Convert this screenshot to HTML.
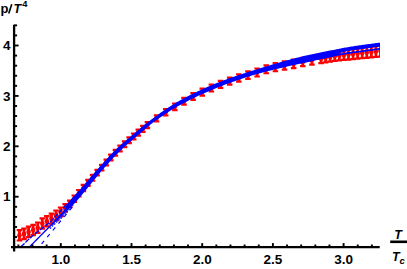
<!DOCTYPE html>
<html><head><meta charset="utf-8"><title>p/T^4</title>
<style>html,body{margin:0;padding:0;background:#fff;overflow:hidden}svg{display:block}</style></head>
<body>
<svg width="407" height="269" viewBox="0 0 407 269">
<rect width="407" height="269" fill="#fff"/>
<defs><clipPath id="c"><rect x="0" y="0" width="380" height="247.1"/></clipPath></defs>
<g clip-path="url(#c)">
<g stroke="#f00" fill="#f00">
<path d="M19.45,230.10V240.50" stroke-width="2.8" fill="none"/>
<path d="M16.70,230.10h5.5M16.70,240.50h5.5" stroke-width="2.2" fill="none"/>
<circle cx="19.45" cy="235.30" r="2.3" stroke="none"/>
<path d="M24.02,228.70V239.10" stroke-width="2.8" fill="none"/>
<path d="M21.27,228.70h5.5M21.27,239.10h5.5" stroke-width="2.2" fill="none"/>
<circle cx="24.02" cy="233.90" r="2.3" stroke="none"/>
<path d="M28.59,226.70V237.10" stroke-width="2.8" fill="none"/>
<path d="M25.84,226.70h5.5M25.84,237.10h5.5" stroke-width="2.2" fill="none"/>
<circle cx="28.59" cy="231.90" r="2.3" stroke="none"/>
<path d="M33.16,224.80V235.20" stroke-width="2.8" fill="none"/>
<path d="M30.41,224.80h5.5M30.41,235.20h5.5" stroke-width="2.2" fill="none"/>
<circle cx="33.16" cy="230.00" r="2.3" stroke="none"/>
<path d="M37.73,222.50V232.90" stroke-width="2.8" fill="none"/>
<path d="M34.98,222.50h5.5M34.98,232.90h5.5" stroke-width="2.2" fill="none"/>
<circle cx="37.73" cy="227.70" r="2.3" stroke="none"/>
<path d="M42.30,218.30V228.70" stroke-width="2.8" fill="none"/>
<path d="M39.55,218.30h5.5M39.55,228.70h5.5" stroke-width="2.2" fill="none"/>
<circle cx="42.30" cy="223.50" r="2.3" stroke="none"/>
<path d="M46.87,216.20V226.40" stroke-width="2.8" fill="none"/>
<path d="M44.12,216.20h5.5M44.12,226.40h5.5" stroke-width="2.2" fill="none"/>
<circle cx="46.87" cy="221.30" r="2.3" stroke="none"/>
<path d="M51.44,213.60V223.60" stroke-width="2.8" fill="none"/>
<path d="M48.69,213.60h5.5M48.69,223.60h5.5" stroke-width="2.2" fill="none"/>
<circle cx="51.44" cy="218.60" r="2.3" stroke="none"/>
<path d="M56.01,210.49V220.29" stroke-width="2.8" fill="none"/>
<path d="M53.26,210.49h5.5M53.26,220.29h5.5" stroke-width="2.2" fill="none"/>
<circle cx="56.01" cy="215.39" r="2.3" stroke="none"/>
<path d="M60.58,207.50V216.30" stroke-width="2.8" fill="none"/>
<path d="M57.83,207.50h5.5M57.83,216.30h5.5" stroke-width="2.2" fill="none"/>
<circle cx="60.58" cy="211.90" r="2.3" stroke="none"/>
<path d="M65.15,204.22V211.59" stroke-width="2.8" fill="none"/>
<path d="M62.40,204.22h5.5M62.40,211.59h5.5" stroke-width="2.2" fill="none"/>
<circle cx="65.15" cy="207.90" r="2.3" stroke="none"/>
<path d="M69.72,200.65V207.11" stroke-width="2.8" fill="none"/>
<path d="M66.97,200.65h5.5M66.97,207.11h5.5" stroke-width="2.2" fill="none"/>
<circle cx="69.72" cy="203.88" r="2.3" stroke="none"/>
<path d="M74.29,195.52V201.92" stroke-width="2.8" fill="none"/>
<path d="M71.54,195.52h5.5M71.54,201.92h5.5" stroke-width="2.2" fill="none"/>
<circle cx="74.29" cy="198.72" r="2.3" stroke="none"/>
<path d="M78.86,190.00V196.40" stroke-width="2.8" fill="none"/>
<path d="M76.11,190.00h5.5M76.11,196.40h5.5" stroke-width="2.2" fill="none"/>
<circle cx="78.86" cy="193.20" r="2.3" stroke="none"/>
<path d="M83.43,184.91V191.11" stroke-width="2.8" fill="none"/>
<path d="M80.68,184.91h5.5M80.68,191.11h5.5" stroke-width="2.2" fill="none"/>
<circle cx="83.43" cy="188.01" r="2.3" stroke="none"/>
<path d="M88.00,179.90V185.90" stroke-width="2.8" fill="none"/>
<path d="M85.25,179.90h5.5M85.25,185.90h5.5" stroke-width="2.2" fill="none"/>
<circle cx="88.00" cy="182.90" r="2.3" stroke="none"/>
<path d="M92.57,174.89V180.68" stroke-width="2.8" fill="none"/>
<path d="M89.82,174.89h5.5M89.82,180.68h5.5" stroke-width="2.2" fill="none"/>
<circle cx="92.57" cy="177.78" r="2.3" stroke="none"/>
<path d="M97.14,169.80V175.40" stroke-width="2.8" fill="none"/>
<path d="M94.39,169.80h5.5M94.39,175.40h5.5" stroke-width="2.2" fill="none"/>
<circle cx="97.14" cy="172.60" r="2.3" stroke="none"/>
<path d="M101.71,164.81V170.45" stroke-width="2.8" fill="none"/>
<path d="M98.96,164.81h5.5M98.96,170.45h5.5" stroke-width="2.2" fill="none"/>
<circle cx="101.71" cy="167.63" r="2.3" stroke="none"/>
<path d="M106.28,159.69V165.36" stroke-width="2.8" fill="none"/>
<path d="M103.53,159.69h5.5M103.53,165.36h5.5" stroke-width="2.2" fill="none"/>
<circle cx="106.28" cy="162.52" r="2.3" stroke="none"/>
<path d="M110.85,154.71V160.41" stroke-width="2.8" fill="none"/>
<path d="M108.10,154.71h5.5M108.10,160.41h5.5" stroke-width="2.2" fill="none"/>
<circle cx="110.85" cy="157.56" r="2.3" stroke="none"/>
<path d="M115.42,149.97V155.71" stroke-width="2.8" fill="none"/>
<path d="M112.67,149.97h5.5M112.67,155.71h5.5" stroke-width="2.2" fill="none"/>
<circle cx="115.42" cy="152.84" r="2.3" stroke="none"/>
<path d="M119.99,145.52V151.29" stroke-width="2.8" fill="none"/>
<path d="M117.24,145.52h5.5M117.24,151.29h5.5" stroke-width="2.2" fill="none"/>
<circle cx="119.99" cy="148.41" r="2.3" stroke="none"/>
<path d="M124.56,141.34V147.15" stroke-width="2.8" fill="none"/>
<path d="M121.81,141.34h5.5M121.81,147.15h5.5" stroke-width="2.2" fill="none"/>
<circle cx="124.56" cy="144.25" r="2.3" stroke="none"/>
<path d="M129.13,137.37V143.21" stroke-width="2.8" fill="none"/>
<path d="M126.38,137.37h5.5M126.38,143.21h5.5" stroke-width="2.2" fill="none"/>
<circle cx="129.13" cy="140.29" r="2.3" stroke="none"/>
<path d="M133.70,133.51V139.39" stroke-width="2.8" fill="none"/>
<path d="M130.95,133.51h5.5M130.95,139.39h5.5" stroke-width="2.2" fill="none"/>
<circle cx="133.70" cy="136.45" r="2.3" stroke="none"/>
<path d="M138.27,129.70V135.62" stroke-width="2.8" fill="none"/>
<path d="M135.52,129.70h5.5M135.52,135.62h5.5" stroke-width="2.2" fill="none"/>
<circle cx="138.27" cy="132.66" r="2.3" stroke="none"/>
<path d="M142.84,125.88V131.82" stroke-width="2.8" fill="none"/>
<path d="M140.09,125.88h5.5M140.09,131.82h5.5" stroke-width="2.2" fill="none"/>
<circle cx="142.84" cy="128.85" r="2.3" stroke="none"/>
<path d="M147.41,122.05V128.03" stroke-width="2.8" fill="none"/>
<path d="M144.66,122.05h5.5M144.66,128.03h5.5" stroke-width="2.2" fill="none"/>
<circle cx="147.41" cy="125.04" r="2.3" stroke="none"/>
<path d="M156.55,115.28V121.46" stroke-width="2.8" fill="none"/>
<path d="M153.80,115.28h5.5M153.80,121.46h5.5" stroke-width="2.2" fill="none"/>
<circle cx="156.55" cy="118.37" r="2.3" stroke="none"/>
<path d="M165.69,109.09V115.51" stroke-width="2.8" fill="none"/>
<path d="M162.94,109.09h5.5M162.94,115.51h5.5" stroke-width="2.2" fill="none"/>
<circle cx="165.69" cy="112.30" r="2.3" stroke="none"/>
<path d="M174.83,103.48V110.14" stroke-width="2.8" fill="none"/>
<path d="M172.08,103.48h5.5M172.08,110.14h5.5" stroke-width="2.2" fill="none"/>
<circle cx="174.83" cy="106.81" r="2.3" stroke="none"/>
<path d="M183.97,97.80V104.61" stroke-width="2.8" fill="none"/>
<path d="M181.22,97.80h5.5M181.22,104.61h5.5" stroke-width="2.2" fill="none"/>
<circle cx="183.97" cy="101.20" r="2.3" stroke="none"/>
<path d="M193.11,93.04V99.89" stroke-width="2.8" fill="none"/>
<path d="M190.36,93.04h5.5M190.36,99.89h5.5" stroke-width="2.2" fill="none"/>
<circle cx="193.11" cy="96.46" r="2.3" stroke="none"/>
<path d="M202.25,88.65V95.54" stroke-width="2.8" fill="none"/>
<path d="M199.50,88.65h5.5M199.50,95.54h5.5" stroke-width="2.2" fill="none"/>
<circle cx="202.25" cy="92.09" r="2.3" stroke="none"/>
<path d="M211.39,84.58V91.51" stroke-width="2.8" fill="none"/>
<path d="M208.64,84.58h5.5M208.64,91.51h5.5" stroke-width="2.2" fill="none"/>
<circle cx="211.39" cy="88.05" r="2.3" stroke="none"/>
<path d="M220.53,80.82V87.78" stroke-width="2.8" fill="none"/>
<path d="M217.78,80.82h5.5M217.78,87.78h5.5" stroke-width="2.2" fill="none"/>
<circle cx="220.53" cy="84.30" r="2.3" stroke="none"/>
<path d="M229.67,77.53V84.53" stroke-width="2.8" fill="none"/>
<path d="M226.92,77.53h5.5M226.92,84.53h5.5" stroke-width="2.2" fill="none"/>
<circle cx="229.67" cy="81.03" r="2.3" stroke="none"/>
<path d="M238.81,74.33V81.66" stroke-width="2.8" fill="none"/>
<path d="M236.06,74.33h5.5M236.06,81.66h5.5" stroke-width="2.2" fill="none"/>
<circle cx="238.81" cy="77.99" r="2.3" stroke="none"/>
<path d="M247.95,71.33V79.00" stroke-width="2.8" fill="none"/>
<path d="M245.20,71.33h5.5M245.20,79.00h5.5" stroke-width="2.2" fill="none"/>
<circle cx="247.95" cy="75.16" r="2.3" stroke="none"/>
<path d="M257.09,68.51V76.50" stroke-width="2.8" fill="none"/>
<path d="M254.34,68.51h5.5M254.34,76.50h5.5" stroke-width="2.2" fill="none"/>
<circle cx="257.09" cy="72.50" r="2.3" stroke="none"/>
<path d="M266.23,65.47V73.27" stroke-width="2.8" fill="none"/>
<path d="M263.48,65.47h5.5M263.48,73.27h5.5" stroke-width="2.2" fill="none"/>
<circle cx="266.23" cy="69.37" r="2.3" stroke="none"/>
<path d="M275.37,63.16V71.24" stroke-width="2.8" fill="none"/>
<path d="M272.62,63.16h5.5M272.62,71.24h5.5" stroke-width="2.2" fill="none"/>
<circle cx="275.37" cy="67.20" r="2.3" stroke="none"/>
<path d="M284.51,61.25V69.59" stroke-width="2.8" fill="none"/>
<path d="M281.76,61.25h5.5M281.76,69.59h5.5" stroke-width="2.2" fill="none"/>
<circle cx="284.51" cy="65.42" r="2.3" stroke="none"/>
<path d="M293.65,59.56V68.14" stroke-width="2.8" fill="none"/>
<path d="M290.90,59.56h5.5M290.90,68.14h5.5" stroke-width="2.2" fill="none"/>
<circle cx="293.65" cy="63.85" r="2.3" stroke="none"/>
<path d="M302.79,57.80V66.20" stroke-width="2.8" fill="none"/>
<path d="M300.04,57.80h5.5M300.04,66.20h5.5" stroke-width="2.2" fill="none"/>
<circle cx="302.79" cy="62.00" r="2.3" stroke="none"/>
<path d="M311.93,56.02V64.62" stroke-width="2.8" fill="none"/>
<path d="M309.18,56.02h5.5M309.18,64.62h5.5" stroke-width="2.2" fill="none"/>
<circle cx="311.93" cy="60.32" r="2.3" stroke="none"/>
<path d="M321.07,54.29V63.09" stroke-width="2.8" fill="none"/>
<path d="M318.32,54.29h5.5M318.32,63.09h5.5" stroke-width="2.2" fill="none"/>
<circle cx="321.07" cy="58.69" r="2.3" stroke="none"/>
<path d="M325.64,53.32V62.34" stroke-width="2.8" fill="none"/>
<path d="M322.89,53.32h5.5M322.89,62.34h5.5" stroke-width="2.2" fill="none"/>
<circle cx="325.64" cy="57.83" r="2.3" stroke="none"/>
<path d="M330.21,52.34V61.59" stroke-width="2.8" fill="none"/>
<path d="M327.46,52.34h5.5M327.46,61.59h5.5" stroke-width="2.2" fill="none"/>
<circle cx="330.21" cy="56.96" r="2.3" stroke="none"/>
<path d="M334.78,51.45V60.92" stroke-width="2.8" fill="none"/>
<path d="M332.03,51.45h5.5M332.03,60.92h5.5" stroke-width="2.2" fill="none"/>
<circle cx="334.78" cy="56.18" r="2.3" stroke="none"/>
<path d="M339.35,50.70V60.39" stroke-width="2.8" fill="none"/>
<path d="M336.60,50.70h5.5M336.60,60.39h5.5" stroke-width="2.2" fill="none"/>
<circle cx="339.35" cy="55.55" r="2.3" stroke="none"/>
<path d="M343.92,50.04V59.95" stroke-width="2.8" fill="none"/>
<path d="M341.17,50.04h5.5M341.17,59.95h5.5" stroke-width="2.2" fill="none"/>
<circle cx="343.92" cy="54.99" r="2.3" stroke="none"/>
<path d="M348.49,49.41V59.54" stroke-width="2.8" fill="none"/>
<path d="M345.74,49.41h5.5M345.74,59.54h5.5" stroke-width="2.2" fill="none"/>
<circle cx="348.49" cy="54.47" r="2.3" stroke="none"/>
<path d="M353.06,48.78V59.10" stroke-width="2.8" fill="none"/>
<path d="M350.31,48.78h5.5M350.31,59.10h5.5" stroke-width="2.2" fill="none"/>
<circle cx="353.06" cy="53.94" r="2.3" stroke="none"/>
<path d="M357.63,48.16V58.67" stroke-width="2.8" fill="none"/>
<path d="M354.88,48.16h5.5M354.88,58.67h5.5" stroke-width="2.2" fill="none"/>
<circle cx="357.63" cy="53.42" r="2.3" stroke="none"/>
<path d="M362.20,47.55V58.24" stroke-width="2.8" fill="none"/>
<path d="M359.45,47.55h5.5M359.45,58.24h5.5" stroke-width="2.2" fill="none"/>
<circle cx="362.20" cy="52.90" r="2.3" stroke="none"/>
<path d="M366.77,46.95V57.82" stroke-width="2.8" fill="none"/>
<path d="M364.02,46.95h5.5M364.02,57.82h5.5" stroke-width="2.2" fill="none"/>
<circle cx="366.77" cy="52.39" r="2.3" stroke="none"/>
<path d="M371.34,46.36V57.41" stroke-width="2.8" fill="none"/>
<path d="M368.59,46.36h5.5M368.59,57.41h5.5" stroke-width="2.2" fill="none"/>
<circle cx="371.34" cy="51.89" r="2.3" stroke="none"/>
<path d="M375.91,45.81V57.01" stroke-width="2.8" fill="none"/>
<path d="M373.16,45.81h5.5M373.16,57.01h5.5" stroke-width="2.2" fill="none"/>
<circle cx="375.91" cy="51.41" r="2.3" stroke="none"/>
<path d="M380.48,45.35V56.55" stroke-width="2.8" fill="none"/>
<path d="M377.73,45.35h5.5M377.73,56.55h5.5" stroke-width="2.2" fill="none"/>
<circle cx="380.48" cy="50.95" r="2.3" stroke="none"/>
</g>
<g fill="none" stroke="#00f" stroke-linejoin="round">
<path d="M27.80,247.78 L28.98,246.55 L30.17,245.32 L31.35,244.10 L32.54,242.89 L33.72,241.68 L34.91,240.48 L36.09,239.28 L37.28,238.08 L38.46,236.88 L39.65,235.69 L40.83,234.49 L42.02,233.28 L43.20,232.07 L44.38,230.86 L45.57,229.64 L46.75,228.43 L47.94,227.21 L49.12,225.99 L50.31,224.75 L51.49,223.50 L52.68,222.24 L53.86,220.94 L55.05,219.61 L56.23,218.29 L57.42,217.05 L58.60,215.90 L59.78,214.79 L60.97,213.65 L62.15,212.41 L63.34,211.02 L64.52,209.34 L65.71,207.01 L66.89,204.69 L68.08,202.94 L69.26,201.36 L70.45,199.90 L71.63,198.54 L72.82,197.25 L74.00,196.01 L75.18,194.79 L76.37,193.58 L77.55,192.35 L78.74,191.08 L79.92,189.74 L81.11,188.37 L82.29,186.99 L83.48,185.59 L84.66,184.20 L85.85,182.79 L87.03,181.39 L88.22,179.98 L89.40,178.58 L90.58,177.18 L91.77,175.79 L92.95,174.41 L94.14,173.03 L95.32,171.67 L96.51,170.33 L97.69,169.00 L98.88,167.66 L100.06,166.32 L101.25,164.99 L102.43,163.66 L103.62,162.33 L104.80,161.02 L105.98,159.71 L107.17,158.41 L108.35,157.13 L109.54,155.87 L110.72,154.62 L111.91,153.39 L113.09,152.18 L114.28,151.00 L115.46,149.84 L116.65,148.71 L117.83,147.59 L119.02,146.50 L120.20,145.41 L121.38,144.35 L122.57,143.29 L123.75,142.25 L124.94,141.22 L126.12,140.20 L127.31,139.19 L128.49,138.19 L129.68,137.19 L130.86,136.20 L132.05,135.21 L133.23,134.22 L134.42,133.24 L135.60,132.25 L136.78,131.27 L137.97,130.28 L139.15,129.28 L140.34,128.29 L141.52,127.30 L142.71,126.31 L143.89,125.33 L145.08,124.36 L146.26,123.40 L147.45,122.46 L148.63,121.54 L149.82,120.64 L151.00,119.76 L152.18,118.88 L153.37,118.01 L154.55,117.14 L155.74,116.27 L156.92,115.41 L158.11,114.56 L159.29,113.71 L160.48,112.87 L161.66,112.04 L162.85,111.21 L164.03,110.40 L165.22,109.59 L166.40,108.79 L167.58,108.00 L168.77,107.22 L169.95,106.45 L171.14,105.69 L172.32,104.94 L173.51,104.20 L174.69,103.48 L175.88,102.77 L177.06,102.07 L178.25,101.39 L179.43,100.72 L180.62,100.06 L181.80,99.41 L182.98,98.77 L184.17,98.14 L185.35,97.51 L186.54,96.89 L187.72,96.27 L188.91,95.67 L190.09,95.07 L191.28,94.47 L192.46,93.88 L193.65,93.30 L194.83,92.73 L196.02,92.16 L197.20,91.59 L198.38,91.04 L199.57,90.49 L200.75,89.94 L201.94,89.40 L203.12,88.87 L204.31,88.34 L205.49,87.81 L206.68,87.29 L207.86,86.78 L209.05,86.27 L210.23,85.77 L211.42,85.27 L212.60,84.78 L213.78,84.29 L214.97,83.81 L216.15,83.33 L217.34,82.85 L218.52,82.38 L219.71,81.91 L220.89,81.45 L222.08,81.00 L223.26,80.54 L224.45,80.10 L225.63,79.66 L226.82,79.22 L228.00,78.79 L229.18,78.36 L230.37,77.94 L231.55,77.52 L232.74,77.10 L233.92,76.69 L235.11,76.28 L236.29,75.88 L237.48,75.48 L238.66,75.08 L239.85,74.68 L241.03,74.29 L242.22,73.90 L243.40,73.52 L244.58,73.13 L245.77,72.75 L246.95,72.37 L248.14,71.99 L249.32,71.62 L250.51,71.25 L251.69,70.87 L252.88,70.50 L254.06,70.14 L255.25,69.77 L256.43,69.40 L257.62,69.03 L258.80,68.67 L259.98,68.30 L261.17,67.94 L262.35,67.58 L263.54,67.22 L264.72,66.85 L265.91,66.49 L267.09,66.13 L268.28,65.78 L269.46,65.42 L270.65,65.06 L271.83,64.71 L273.02,64.36 L274.20,64.01 L275.38,63.66 L276.57,63.31 L277.75,62.97 L278.94,62.63 L280.12,62.29 L281.31,61.95 L282.49,61.61 L283.68,61.28 L284.86,60.95 L286.05,60.62 L287.23,60.30 L288.42,59.98 L289.60,59.66 L290.78,59.34 L291.97,59.03 L293.15,58.72 L294.34,58.41 L295.52,58.11 L296.71,57.81 L297.89,57.52 L299.08,57.22 L300.26,56.94 L301.45,56.65 L302.63,56.37 L303.82,56.10 L305.00,55.83 L306.18,55.56 L307.37,55.29 L308.55,55.03 L309.74,54.77 L310.92,54.52 L312.11,54.26 L313.29,54.01 L314.48,53.76 L315.66,53.51 L316.85,53.27 L318.03,53.02 L319.22,52.78 L320.40,52.54 L321.58,52.30 L322.77,52.05 L323.95,51.81 L325.14,51.57 L326.32,51.33 L327.51,51.09 L328.69,50.85 L329.88,50.61 L331.06,50.37 L332.25,50.13 L333.43,49.89 L334.62,49.65 L335.80,49.42 L336.98,49.18 L338.17,48.95 L339.35,48.72 L340.54,48.49 L341.72,48.26 L342.91,48.04 L344.09,47.82 L345.28,47.61 L346.46,47.40 L347.65,47.19 L348.83,46.99 L350.02,46.80 L351.20,46.61 L352.38,46.42 L353.57,46.23 L354.75,46.05 L355.94,45.87 L357.12,45.70 L358.31,45.52 L359.49,45.35 L360.68,45.18 L361.86,45.01 L363.05,44.85 L364.23,44.68 L365.42,44.52 L366.60,44.36 L367.78,44.20 L368.97,44.04 L370.15,43.88 L371.34,43.73 L372.52,43.57 L373.71,43.42 L374.89,43.26 L376.08,43.11 L377.26,42.96 L378.45,42.80 L379.63,42.65 L380.82,42.50 L382.00,42.35 L382.00,46.35 L380.83,46.50 L379.65,46.65 L378.48,46.81 L377.30,46.96 L376.13,47.12 L374.96,47.28 L373.78,47.45 L372.61,47.61 L371.43,47.77 L370.26,47.94 L369.09,48.10 L367.91,48.27 L366.74,48.43 L365.57,48.59 L364.39,48.76 L363.22,48.92 L362.04,49.08 L360.87,49.24 L359.70,49.40 L358.52,49.55 L357.35,49.70 L356.17,49.85 L355.00,50.00 L353.83,50.15 L352.65,50.31 L351.48,50.47 L350.30,50.64 L349.13,50.82 L347.96,51.01 L346.78,51.20 L345.61,51.39 L344.43,51.69 L343.26,52.10 L342.09,52.52 L340.91,52.93 L339.74,53.36 L338.57,53.78 L337.39,54.21 L336.22,54.64 L335.04,55.07 L333.87,55.51 L332.70,55.95 L331.52,56.38 L330.35,56.82 L329.17,57.26 L328.00,57.70 L326.83,57.94 L325.65,58.17 L324.48,58.40 L323.30,58.64 L322.13,58.88 L320.96,59.12 L319.78,59.37 L318.61,59.61 L317.43,59.86 L316.26,60.11 L315.09,60.36 L313.91,60.61 L312.74,60.87 L311.57,61.12 L310.39,61.38 L309.22,61.64 L308.04,61.90 L306.87,62.16 L305.70,62.42 L304.52,62.68 L303.35,62.95 L302.17,63.21 L301.00,63.47 L299.83,63.74 L298.65,64.00 L297.48,64.27 L296.30,64.53 L295.13,64.79 L293.96,65.05 L292.78,65.31 L291.61,65.57 L290.43,65.83 L289.26,66.09 L288.09,66.36 L286.91,66.62 L285.74,66.88 L284.57,67.15 L283.39,67.41 L282.22,67.68 L281.04,67.95 L279.87,68.22 L278.70,68.49 L277.52,68.76 L276.35,69.04 L275.17,69.32 L274.00,69.60 L272.83,69.88 L271.65,70.17 L270.48,70.46 L269.30,70.75 L268.13,71.04 L266.96,71.34 L265.78,71.65 L264.61,71.95 L263.43,72.26 L262.26,72.58 L261.09,72.90 L259.91,73.22 L258.74,73.55 L257.57,73.89 L256.39,74.22 L255.22,74.56 L254.04,74.91 L252.87,75.26 L251.70,75.61 L250.52,75.97 L249.35,76.33 L248.17,76.70 L247.00,77.06 L245.83,77.44 L244.65,77.81 L243.48,78.20 L242.30,78.58 L241.13,78.97 L239.96,79.36 L238.78,79.76 L237.61,80.16 L236.43,80.56 L235.26,80.97 L234.09,81.38 L232.91,81.80 L231.74,82.21 L230.57,82.64 L229.39,83.06 L228.22,83.49 L227.04,83.93 L225.87,84.36 L224.70,84.80 L223.52,85.25 L222.35,85.69 L221.17,86.15 L220.00,86.60 L218.83,87.06 L217.65,87.52 L216.48,87.99 L215.30,88.46 L214.13,88.94 L212.96,89.42 L211.78,89.90 L210.61,90.39 L209.43,90.89 L208.26,91.39 L207.09,91.89 L205.91,92.40 L204.74,92.92 L203.57,93.44 L202.39,93.96 L201.22,94.49 L200.04,95.03 L198.87,95.57 L197.70,96.12 L196.52,96.67 L195.35,97.23 L194.17,97.80 L193.00,98.37 L191.83,98.94 L190.65,99.53 L189.48,100.12 L188.30,100.71 L187.13,101.31 L185.96,101.92 L184.78,102.53 L183.61,103.15 L182.43,103.78 L181.26,104.41 L180.09,105.05 L178.91,105.70 L177.74,106.36 L176.57,107.03 L175.39,107.71 L174.22,108.40 L173.04,109.10 L171.87,109.82 L170.70,110.54 L169.52,111.27 L168.35,112.02 L167.17,112.77 L166.00,113.53 L164.83,114.31 L163.65,115.09 L162.48,115.88 L161.30,116.68 L160.13,117.50 L158.96,118.32 L157.78,119.15 L156.61,119.99 L155.43,120.84 L154.26,121.70 L153.09,122.57 L151.91,123.45 L150.74,124.34 L149.57,125.24 L148.39,126.19 L147.22,127.19 L146.04,128.22 L144.87,129.25 L143.70,130.26 L142.52,131.26 L141.35,132.26 L140.17,133.24 L139.00,134.23 L137.83,135.21 L136.65,136.20 L135.48,137.18 L134.30,138.17 L133.13,139.16 L131.96,140.15 L130.78,141.16 L129.61,142.17 L128.43,143.19 L127.26,144.22 L126.09,145.27 L124.91,146.33 L123.74,147.41 L122.57,148.51 L121.39,149.62 L120.22,150.76 L119.04,151.92 L117.87,153.10 L116.70,154.30 L115.52,155.52 L114.35,156.75 L113.17,158.00 L112.00,159.27 L110.83,160.54 L109.65,161.83 L108.48,163.14 L107.30,164.45 L106.13,165.77 L104.96,167.09 L103.78,168.43 L102.61,169.76 L101.43,171.11 L100.26,172.48 L99.09,173.88 L97.91,175.29 L96.74,176.71 L95.57,178.15 L94.39,179.60 L93.22,181.05 L92.04,182.50 L90.87,183.95 L89.70,185.40 L88.52,186.84 L87.35,188.26 L86.17,189.67 L85.00,191.08 L83.83,192.50 L82.65,193.92 L81.48,195.35 L80.30,196.77 L79.13,198.18 L77.96,199.56 L76.78,200.92 L75.61,202.24 L74.43,203.53 L73.26,204.76 L72.09,205.91 L70.91,207.03 L69.74,208.13 L68.57,209.24 L67.39,210.42 L66.22,211.65 L65.04,212.93 L63.87,214.21 L62.70,215.48 L61.52,216.71 L60.35,217.86 L59.17,218.92 L58.00,219.90 L56.83,220.86 L55.65,221.86 L54.48,222.93 L53.30,224.02 L52.13,225.13 L50.96,226.27 L49.78,227.41 L48.61,228.57 L47.43,229.73 L46.26,230.89 L45.09,232.06 L43.91,233.23 L42.74,234.40 L41.57,235.59 L40.39,236.78 L39.22,237.98 L38.04,239.18 L36.87,240.38 L35.70,241.59 L34.52,242.80 L33.35,244.00 L32.17,245.21 L31.00,246.43Z" fill="#00f" stroke="none"/>
<path d="M300.00,62.80 L301.39,62.49 L302.78,62.18 L304.17,61.86 L305.56,61.55 L306.95,61.24 L308.34,60.93 L309.73,60.63 L311.12,60.32 L312.51,60.02 L313.90,59.72 L315.29,59.42 L316.68,59.12 L318.07,58.82 L319.46,58.53 L320.85,58.24 L322.24,57.96 L323.63,57.67 L325.02,57.40 L326.41,57.12 L327.80,56.84 L329.19,56.57 L330.58,56.29 L331.97,56.02 L333.36,55.75 L334.75,55.48 L336.14,55.21 L337.53,54.94 L338.92,54.68 L340.31,54.42 L341.69,54.17 L343.08,53.93 L344.47,53.69 L345.86,53.45 L347.25,53.22 L348.64,53.01 L350.03,52.79 L351.42,52.60 L352.81,52.41 L354.20,52.23 L355.59,52.06 L356.98,51.88 L358.37,51.71 L359.76,51.53 L361.15,51.35 L362.54,51.16 L363.93,50.97 L365.32,50.78 L366.71,50.59 L368.10,50.40 L369.49,50.21 L370.88,50.02 L372.27,49.83 L373.66,49.64 L375.05,49.45 L376.44,49.27 L377.83,49.08 L379.22,48.90 L380.61,48.72 L382.00,48.55" stroke-width="1.8"/>
<path d="M39.8,246 L75,203.7" stroke-width="1.15" stroke-dasharray="3.9 4.9" stroke-dashoffset="6"/>
<path d="M50.00,228.60 L50.14,228.45 L50.29,228.30 L50.43,228.15 L50.58,228.00 L50.72,227.85 L50.87,227.70 L51.01,227.55 L51.16,227.40 L51.30,227.26 L51.45,227.11 L51.59,226.96 L51.74,226.81 L51.88,226.67 L52.03,226.52 L52.17,226.38 L52.31,226.23 L52.46,226.09 L52.60,225.94 L52.75,225.80 L52.89,225.66 L53.04,225.51 L53.18,225.37 L53.33,225.23 L53.47,225.09 L53.62,224.95 L53.76,224.81 L53.91,224.67 L54.05,224.53 L54.19,224.39 L54.34,224.25 L54.48,224.11 L54.63,223.97 L54.77,223.83 L54.92,223.69 L55.06,223.56 L55.21,223.42 L55.35,223.28 L55.50,223.15 L55.64,223.01 L55.79,222.88 L55.93,222.74 L56.08,222.61 L56.22,222.47 L56.36,222.34 L56.51,222.21 L56.65,222.08 L56.80,221.95 L56.94,221.82 L57.09,221.69 L57.23,221.57 L57.38,221.44 L57.52,221.32 L57.67,221.19 L57.81,221.07 L57.96,220.95 L58.10,220.83 L58.25,220.70 L58.39,220.58 L58.53,220.46 L58.68,220.34 L58.82,220.22 L58.97,220.10 L59.11,219.97 L59.26,219.85 L59.40,219.73 L59.55,219.60 L59.69,219.48 L59.84,219.35 L59.98,219.23 L60.13,219.10 L60.27,218.97 L60.42,218.84 L60.56,218.71 L60.70,218.57 L60.85,218.44 L60.99,218.30 L61.14,218.16 L61.28,218.02 L61.43,217.88 L61.57,217.74 L61.72,217.60 L61.86,217.45 L62.01,217.31 L62.15,217.16 L62.30,217.01 L62.44,216.86 L62.58,216.71 L62.73,216.56 L62.87,216.41 L63.02,216.26 L63.16,216.11 L63.31,215.95 L63.45,215.80 L63.60,215.64 L63.74,215.49 L63.89,215.33 L64.03,215.17 L64.18,215.02 L64.32,214.86 L64.47,214.70 L64.61,214.54 L64.75,214.38 L64.90,214.22 L65.04,214.06 L65.19,213.90 L65.33,213.74 L65.48,213.57 L65.62,213.41 L65.77,213.25 L65.91,213.09 L66.06,212.93 L66.20,212.76 L66.35,212.60 L66.49,212.44 L66.64,212.28 L66.78,212.11 L66.92,211.95 L67.07,211.79 L67.21,211.63 L67.36,211.47 L67.50,211.31 L67.65,211.14 L67.79,210.98 L67.94,210.82 L68.08,210.66 L68.23,210.50 L68.37,210.34 L68.52,210.18 L68.66,210.02 L68.81,209.86 L68.95,209.71 L69.09,209.55 L69.24,209.39 L69.38,209.23 L69.53,209.07 L69.67,208.91 L69.82,208.75 L69.96,208.59 L70.11,208.43 L70.25,208.26 L70.40,208.10 L70.54,207.94 L70.69,207.78 L70.83,207.62 L70.97,207.46 L71.12,207.30 L71.26,207.14 L71.41,206.97 L71.55,206.81 L71.70,206.65 L71.84,206.49 L71.99,206.33 L72.13,206.17 L72.28,206.00 L72.42,205.84 L72.57,205.68 L72.71,205.52 L72.86,205.35 L73.00,205.19" stroke-width="1.3" stroke-dasharray="1.6 1.3"/>
<path d="M20.70,246.80 L20.99,246.56 L21.29,246.31 L21.58,246.06 L21.88,245.81 L22.17,245.56 L22.47,245.30 L22.76,245.04 L23.05,244.78 L23.35,244.51 L23.64,244.24 L23.94,243.96 L24.23,243.68 L24.53,243.40 L24.82,243.10 L25.12,242.80 L25.41,242.50 L25.70,242.20 L26.00,241.90 L26.29,241.59 L26.59,241.29 L26.88,241.00 L27.18,240.71 L27.47,240.43 L27.76,240.15 L28.06,239.88 L28.35,239.61 L28.65,239.35 L28.94,239.08 L29.24,238.82 L29.53,238.56 L29.82,238.30 L30.12,238.05 L30.41,237.79 L30.71,237.54 L31.00,237.29 L31.30,237.03 L31.59,236.78 L31.88,236.53 L32.18,236.28 L32.47,236.02 L32.77,235.77 L33.06,235.52 L33.36,235.26 L33.65,235.01 L33.95,234.76 L34.24,234.51 L34.53,234.26 L34.83,234.01 L35.12,233.76 L35.42,233.51 L35.71,233.26 L36.01,233.02 L36.30,232.77 L36.59,232.53 L36.89,232.29 L37.18,232.05 L37.48,231.82 L37.77,231.58 L38.07,231.35 L38.36,231.12 L38.65,230.89 L38.95,230.66 L39.24,230.43 L39.54,230.20 L39.83,229.98 L40.13,229.75 L40.42,229.52 L40.72,229.30 L41.01,229.07 L41.30,228.85 L41.60,228.62 L41.89,228.39 L42.19,228.17 L42.48,227.94 L42.78,227.71 L43.07,227.48 L43.36,227.25 L43.66,227.02 L43.95,226.79 L44.25,226.56 L44.54,226.34 L44.84,226.11 L45.13,225.88 L45.42,225.65 L45.72,225.42 L46.01,225.19 L46.31,224.96 L46.60,224.73 L46.90,224.50 L47.19,224.28 L47.48,224.05 L47.78,223.83 L48.07,223.61 L48.37,223.39 L48.66,223.17 L48.96,222.94 L49.25,222.71 L49.55,222.47 L49.84,222.23 L50.13,221.97 L50.43,221.70 L50.72,221.43 L51.02,221.14 L51.31,220.84 L51.61,220.54 L51.90,220.24 L52.19,219.93 L52.49,219.61 L52.78,219.30 L53.08,218.98 L53.37,218.66 L53.67,218.35 L53.96,218.04 L54.25,217.73 L54.55,217.43 L54.84,217.12 L55.14,216.81 L55.43,216.50 L55.73,216.19 L56.02,215.87 L56.32,215.56 L56.61,215.25 L56.90,214.94 L57.20,214.62 L57.49,214.31 L57.79,213.99 L58.08,213.68 L58.38,213.36 L58.67,213.05 L58.96,212.73 L59.26,212.42 L59.55,212.10 L59.85,211.78 L60.14,211.47 L60.44,211.15 L60.73,210.83 L61.02,210.51 L61.32,210.20 L61.61,209.88 L61.91,209.56 L62.20,209.24 L62.50,208.92 L62.79,208.60 L63.08,208.28 L63.38,207.96 L63.67,207.64 L63.97,207.32 L64.26,207.00 L64.56,206.68 L64.85,206.35 L65.15,206.03 L65.44,205.71 L65.73,205.39 L66.03,205.06 L66.32,204.74 L66.62,204.42 L66.91,204.10 L67.21,203.77 L67.50,203.45" stroke-width="1.3" stroke-dasharray="5.2 1.2"/>
</g>
</g>
<g stroke="#000" fill="none" stroke-width="2.3">
<path d="M14.1,24.7V251.5M11,247.1H379.7"/>
</g>
<g stroke="#000" fill="none" stroke-width="1.9">
<path d="M14.1,237.02h3.0"/>
<path d="M14.1,226.94h3.0"/>
<path d="M14.1,216.86h3.0"/>
<path d="M14.1,206.78h3.0"/>
<path d="M14.1,196.70h4.5"/>
<path d="M14.1,186.62h3.0"/>
<path d="M14.1,176.54h3.0"/>
<path d="M14.1,166.46h3.0"/>
<path d="M14.1,156.38h3.0"/>
<path d="M14.1,146.30h4.5"/>
<path d="M14.1,136.22h3.0"/>
<path d="M14.1,126.14h3.0"/>
<path d="M14.1,116.06h3.0"/>
<path d="M14.1,105.98h3.0"/>
<path d="M14.1,95.90h4.5"/>
<path d="M14.1,85.82h3.0"/>
<path d="M14.1,75.74h3.0"/>
<path d="M14.1,65.66h3.0"/>
<path d="M14.1,55.58h3.0"/>
<path d="M14.1,45.50h4.5"/>
<path d="M14.1,35.42h3.0"/>
<path d="M14.1,25.34h3.0"/>
<path d="M18.38,247.1v-2.6"/>
<path d="M32.52,247.1v-2.6"/>
<path d="M46.66,247.1v-2.6"/>
<path d="M60.80,247.1v-4.0"/>
<path d="M74.94,247.1v-2.6"/>
<path d="M89.08,247.1v-2.6"/>
<path d="M103.22,247.1v-2.6"/>
<path d="M117.36,247.1v-2.6"/>
<path d="M131.50,247.1v-4.0"/>
<path d="M145.64,247.1v-2.6"/>
<path d="M159.78,247.1v-2.6"/>
<path d="M173.92,247.1v-2.6"/>
<path d="M188.06,247.1v-2.6"/>
<path d="M202.20,247.1v-4.0"/>
<path d="M216.34,247.1v-2.6"/>
<path d="M230.48,247.1v-2.6"/>
<path d="M244.62,247.1v-2.6"/>
<path d="M258.76,247.1v-2.6"/>
<path d="M272.90,247.1v-4.0"/>
<path d="M287.04,247.1v-2.6"/>
<path d="M301.18,247.1v-2.6"/>
<path d="M315.32,247.1v-2.6"/>
<path d="M329.46,247.1v-2.6"/>
<path d="M343.60,247.1v-4.0"/>
<path d="M357.74,247.1v-2.6"/>
<path d="M371.88,247.1v-2.6"/>
</g>
<g font-family="'Liberation Sans', sans-serif" font-weight="bold" fill="#000">
<g font-size="13.5" text-anchor="end">
<text x="10.4" y="201.45">1</text>
<text x="10.4" y="151.05">2</text>
<text x="10.4" y="100.65">3</text>
<text x="10.4" y="50.25">4</text>
</g>
<g font-size="13.5" text-anchor="middle">
<text x="61" y="264">1.0</text>
<text x="131.6" y="264">1.5</text>
<text x="202.3" y="264">2.0</text>
<text x="273" y="264">2.5</text>
<text x="343.7" y="264">3.0</text>
</g>
<text x="0.4" y="13.3" font-size="13">p</text>
<text x="13.4" y="13.3" font-size="12.5" font-style="italic">T</text>
<text x="22.3" y="6.5" font-size="9.3">4</text>
<text x="394.2" y="238.9" font-size="12.5" font-style="italic">T</text>
<text x="391.9" y="261.4" font-size="12.5" font-style="italic">T</text>
<text x="399.5" y="264.3" font-size="9.5" font-style="italic">c</text>
</g>
<path d="M390.2,241.8H407" stroke="#000" stroke-width="2.6"/>
<path d="M8.75,13.4L11.75,4.2" stroke="#000" stroke-width="1.6" fill="none"/>
</svg>
</body></html>
